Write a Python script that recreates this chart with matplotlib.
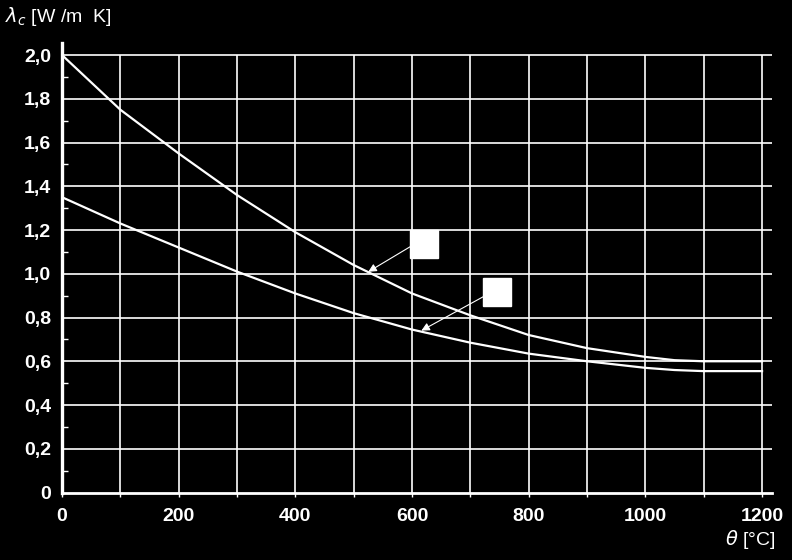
import numpy as np
import matplotlib
matplotlib.use("Agg")
from matplotlib import pyplot as plt
from matplotlib.ticker import MultipleLocator, FixedLocator

# Thermal conductivity of concrete vs temperature
temp = [0, 100, 200, 300, 400, 500, 600, 700, 800, 900, 1000, 1050, 1100, 1200]
upper = [2.00, 1.75, 1.55, 1.36, 1.19, 1.04, 0.91, 0.81, 0.72, 0.66, 0.62, 0.605, 0.60, 0.60]
lower = [1.35, 1.23, 1.12, 1.01, 0.91, 0.82, 0.745, 0.685, 0.635, 0.60, 0.57, 0.56, 0.555, 0.555]

x_ticks = [0, 200, 400, 600, 800, 1000, 1200]
y_ticks = [0, 0.2, 0.4, 0.6, 0.8, 1.0, 1.2, 1.4, 1.6, 1.8, 2.0]
y_labels = ["0", "0,2", "0,4", "0,6", "0,8", "1,0", "1,2", "1,4", "1,6", "1,8", "2,0"]

# label boxes (empty) and where their arrows point
boxes = [(621, 1.136), (746, 0.917)]
arrow_from = [(597, 1.124), (722, 0.895)]
arrow_to = [(525, 1.009), (616, 0.740)]

fig = plt.figure(figsize=(7.92, 5.6), dpi=100, facecolor="black")
ax = fig.add_axes([0.0783, 0.1205, 0.8964, 0.8027])
ax.set_facecolor("black")

ax.set_xlim(0, 1217)
ax.set_ylim(0, 2.055)

# grid
ax.xaxis.set_major_locator(FixedLocator(x_ticks))
ax.xaxis.set_minor_locator(MultipleLocator(100))
ax.yaxis.set_major_locator(FixedLocator(y_ticks))
ax.yaxis.set_minor_locator(MultipleLocator(0.1))
ax.vlines(range(100, 1300, 100), 0, 2.0, color="white", lw=1.2, zorder=1)
for v in y_ticks[1:]:
    ax.axhline(v, color="white", lw=1.2, zorder=1)

ax.plot(temp, upper, color="white", lw=1.6, zorder=3)
ax.plot(temp, lower, color="white", lw=1.6, zorder=3)

for (bx, by), p0, p1 in zip(boxes, arrow_from, arrow_to):
    ax.plot(bx, by, marker="s", ms=20, color="white", mec="white", zorder=4)
    ax.annotate("", xy=p1, xytext=p0,
                arrowprops=dict(arrowstyle="-|>", color="white", lw=0.8,
                                mutation_scale=12, shrinkA=0, shrinkB=0),
                zorder=4)

for s in ["top", "right"]:
    ax.spines[s].set_visible(False)
ax.spines["left"].set_color("white")
ax.spines["left"].set_linewidth(2.4)
ax.spines["bottom"].set_color("white")
ax.spines["bottom"].set_linewidth(2.0)
ax.spines["left"].set_zorder(5)
ax.spines["bottom"].set_zorder(5)

font = "Liberation Sans"
ax.set_xticks(x_ticks)
ax.set_xticklabels([str(v) for v in x_ticks], fontsize=14, fontweight="bold",
                   color="white", family=font)
ax.set_yticks(y_ticks)
ax.set_yticklabels(y_labels, fontsize=14, fontweight="bold", color="white", family=font)

ax.tick_params(axis="x", which="both", direction="out", length=3, width=1,
               color="white", pad=8)
ax.tick_params(axis="y", which="major", length=0, pad=8)
ax.tick_params(axis="y", which="minor", direction="in", length=4, width=1, color="white")

fig.text(0.006, 0.971, r"$\lambda_c$ [W /m  K]", color="white", fontsize=14,
         family=font, va="center", ha="left")
fig.text(0.979, 0.036, r"$\theta$ [°C]", color="white", fontsize=14,
         family=font, va="center", ha="right")

fig.savefig("out.png", dpi=100, facecolor="black")
